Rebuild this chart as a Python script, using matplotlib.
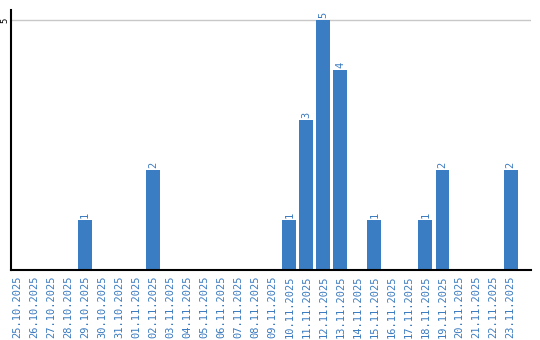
import matplotlib
matplotlib.use("Agg")
import matplotlib.pyplot as plt
import numpy as np

dates = ["25.10.2025", "26.10.2025", "27.10.2025", "28.10.2025", "29.10.2025",
         "30.10.2025", "31.10.2025", "01.11.2025", "02.11.2025", "03.11.2025",
         "04.11.2025", "05.11.2025", "06.11.2025", "07.11.2025", "08.11.2025",
         "09.11.2025", "10.11.2025", "11.11.2025", "12.11.2025", "13.11.2025",
         "14.11.2025", "15.11.2025", "16.11.2025", "17.11.2025", "18.11.2025",
         "19.11.2025", "20.11.2025", "21.11.2025", "22.11.2025", "23.11.2025"]
counts = [0, 0, 0, 0, 1, 0, 0, 0, 2, 0,
          0, 0, 0, 0, 0, 0, 1, 3, 5, 4,
          0, 1, 0, 0, 1, 2, 0, 0, 0, 2]

blue = "#3b7dc2"
text_blue = "#3a7abf"

fig = plt.figure(figsize=(5.4, 3.4), dpi=100)
ax = fig.add_axes([11/540, 1 - 270/340, 520/540, 260/340])

x = np.arange(len(dates))
ax.bar(x, counts, width=0.82, color=blue, zorder=2)
for xi, c in zip(x, counts):
    if c > 0:
        ax.text(xi, c + 0.05, str(c), rotation=90, ha="center", va="bottom",
                color=text_blue, fontsize=7.5, family="DejaVu Sans Mono")

ax.set_xlim(-0.35, 30.2)
ax.set_ylim(0, 5.2)
ax.set_yticks([5])
ax.set_yticklabels(["5"], rotation=90, va="center", ha="center",
                   fontsize=6.5, family="DejaVu Sans Mono")
ax.yaxis.grid(True, color="#c8c8c8", linewidth=1, zorder=0)
ax.tick_params(axis="y", length=0, pad=4.3)
ax.set_xticks(x)
ax.set_xticklabels(dates, rotation=90, color=text_blue, fontsize=7.5, family="DejaVu Sans Mono")
ax.tick_params(axis="x", length=0, pad=4)

ax.spines["top"].set_visible(False)
ax.spines["right"].set_visible(False)
for s in ("left", "bottom"):
    ax.spines[s].set_linewidth(1.5)
    ax.spines[s].set_color("black")

fig.savefig("out.png", dpi=100)
